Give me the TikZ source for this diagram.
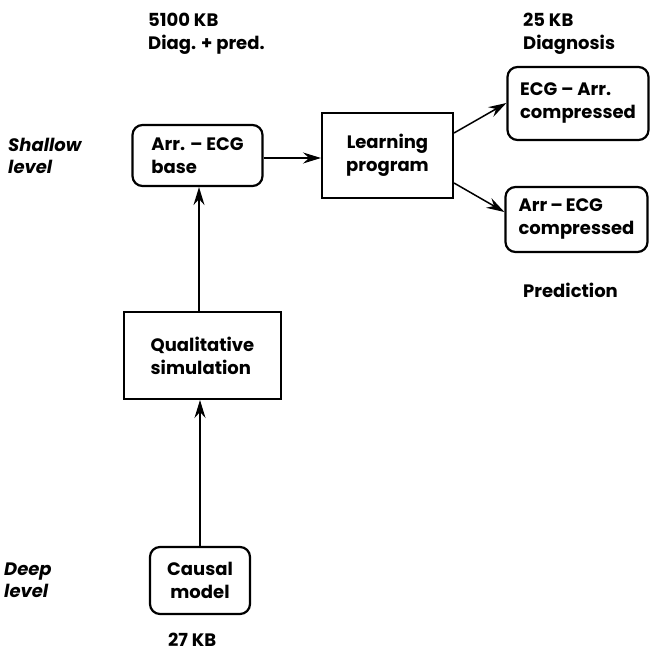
\documentclass[tikz,border=0pt]{standalone}
\usepackage{fontspec}
\setmainfont{Poppins}
\usetikzlibrary{arrows.meta}
\tikzset{
  fnt/.style={font=\fontsize{18}{23}\selectfont\bfseries},
  txt/.style={fnt, inner sep=0pt},
  rbox/.style={draw, line width=2.2pt, rounded corners=10pt, align=left, fnt, inner sep=0pt},
  sbox/.style={draw, line width=2pt, align=left, fnt, inner sep=0pt},
  arr/.style={line width=1.5pt, -{Stealth[length=18pt,width=11pt,inset=6pt]}},
  lbl/.style={txt, align=left, anchor=north west},
  lvl/.style={font=\fontsize{18}{22}\selectfont\bfseries\itshape, inner sep=0pt, align=left, anchor=north west}
}
\begin{document}
\begin{tikzpicture}[x=1pt,y=1pt]
\useasboundingbox (0,0) rectangle (649,-652);
% boxes
\node[rbox, minimum width=130pt, minimum height=61pt] (base) at (197.5,-155.5) {Arr. – ECG\\base};
\node[sbox, minimum width=131pt, minimum height=85pt, align=center] (learn) at (387.5,-155.5) {Learning\\program};
\node[rbox, minimum width=141pt, minimum height=73pt] (ecgarr) at (578,-103.5) {ECG – Arr.\\compressed};
\node[rbox, minimum width=142pt, minimum height=65pt] (arrecg) at (576.5,-219.5) {Arr\,–\,ECG\\compressed};
\node[sbox, minimum width=157pt, minimum height=87pt] (qual) at (202.5,-355.5) {Qualitative\\simulation};
\node[rbox, minimum width=100pt, minimum height=67pt, align=center] (causal) at (200,-580.5) {Causal\\model};
% labels
\node[lbl] (l5100) at (148,-13) {5100 KB\\Diag. + pred.};
\node[lbl] (l25) at (523,-13) {25 KB\\Diagnosis};
\node[lbl] (lpred) at (523,-283) {Prediction};
\node[lbl] (l27) at (168,-633) {27 KB};
\node[lvl] (shallow) at (8,-138) {Shallow\\level};
\node[lvl] (deep) at (4,-563) {Deep\\level};
% connectors
\draw[arr] (causal.north) -- ([xshift=-2.5pt]qual.south);
\draw[arr] ([xshift=-3.5pt]qual.north) -- ([xshift=1.5pt]base.south);
\draw[arr] ([yshift=-2.5pt]base.east) -- ([yshift=-2.5pt]learn.west);
\draw[arr] ([yshift=22.5pt]learn.east) -- ([yshift=0.5pt]ecgarr.west);
\draw[arr] ([yshift=-27.5pt]learn.east) -- ([yshift=7.5pt]arrecg.west);
\end{tikzpicture}
\end{document}
